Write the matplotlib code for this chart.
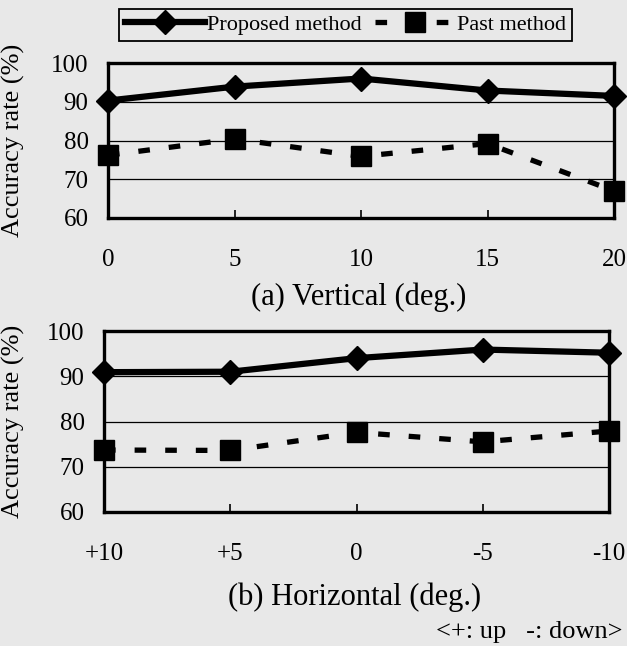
import matplotlib.pyplot as plt
from matplotlib.lines import Line2D

plt.rcParams['font.family'] = ['Liberation Serif', 'DejaVu Serif']
plt.rcParams['font.size'] = 17

# (a) vertical angle
vert_angles = [0, 5, 10, 15, 20]
vert_proposed = [90.3, 93.9, 96.0, 92.9, 91.5]
vert_past = [76.2, 80.4, 75.9, 79.2, 67.0]

# (b) horizontal angle
horiz_labels = ['+10', '+5', '0', '-5', '-10']
horiz_proposed = [90.9, 91.0, 94.0, 95.9, 95.2]
horiz_past = [73.7, 73.6, 77.6, 75.5, 77.9]

W, H = 627, 646
bg = '#e8e8e8'
fig = plt.figure(figsize=(W / 100, H / 100), dpi=100, facecolor=bg)


def px_axes(left, top, right, bottom):
    return fig.add_axes([left / W, 1 - bottom / H, (right - left) / W, (bottom - top) / H])


ax1 = px_axes(108, 63, 614, 218)
ax2 = px_axes(104, 331, 609, 512)

prop_style = dict(color='black', lw=4.5, marker='D', markersize=12.5, clip_on=False, zorder=4)
past_style = dict(color='black', lw=3.8, ls=(0, (2.2, 3.6)), marker='s', markersize=15,
                  clip_on=False, zorder=4)


def setup(ax, xs, xlabels, label_x):
    ax.set_facecolor('none')
    ax.set_ylim(60, 100)
    ax.set_yticks([60, 70, 80, 90, 100])
    ax.set_xlim(xs[0], xs[-1])
    ax.set_xticks(xs)
    ax.set_xticklabels(xlabels)
    for v in [70, 80, 90]:
        ax.axhline(v, color='black', lw=0.9, zorder=1)
    for s in ax.spines.values():
        s.set_linewidth(2.4)
    ax.tick_params(axis='y', length=0, pad=14, labelsize=18)
    ax.tick_params(axis='x', direction='in', length=6, width=1.2, pad=22, labelsize=18)
    ax.set_ylabel('Accuracy rate (%)', fontsize=19)
    ax.yaxis.set_label_coords(label_x, 0.5)


setup(ax1, vert_angles, [str(a) for a in vert_angles], -0.165)
ax1.plot(vert_angles, vert_proposed, **prop_style)
ax1.plot(vert_angles, vert_past, **past_style)

hx = list(range(len(horiz_labels)))
setup(ax2, hx, horiz_labels, -0.157)
ax2.plot(hx, horiz_proposed, **prop_style)
ax2.plot(hx, horiz_past, **past_style)

fig.text(359 / W, 1 - 297 / H, '(a) Vertical (deg.)', ha='center', va='center', fontsize=22)
fig.text(355 / W, 1 - 597 / H, '(b) Horizontal (deg.)', ha='center', va='center', fontsize=22)
fig.text(622 / W, 1 - 632 / H, '<+: up   -: down>', ha='right', va='center', fontsize=19)

handles = [Line2D([], [], **{k: v for k, v in prop_style.items() if k != 'clip_on'}),
           Line2D([], [], **{k: v for k, v in past_style.items() if k != 'clip_on'})]
leg = fig.legend(handles, ['Proposed method', 'Past method'], loc='upper left',
                 bbox_to_anchor=(119 / W, 1 - 9 / H), ncol=2, numpoints=1,
                 handlelength=3.6, handletextpad=0.1, columnspacing=0.6,
                 borderpad=0.25, borderaxespad=0, fancybox=False,
                 facecolor=bg, edgecolor='black', framealpha=1, fontsize=16)
leg.get_frame().set_linewidth(1.3)

fig.savefig('out.png', dpi=100, facecolor=bg)
